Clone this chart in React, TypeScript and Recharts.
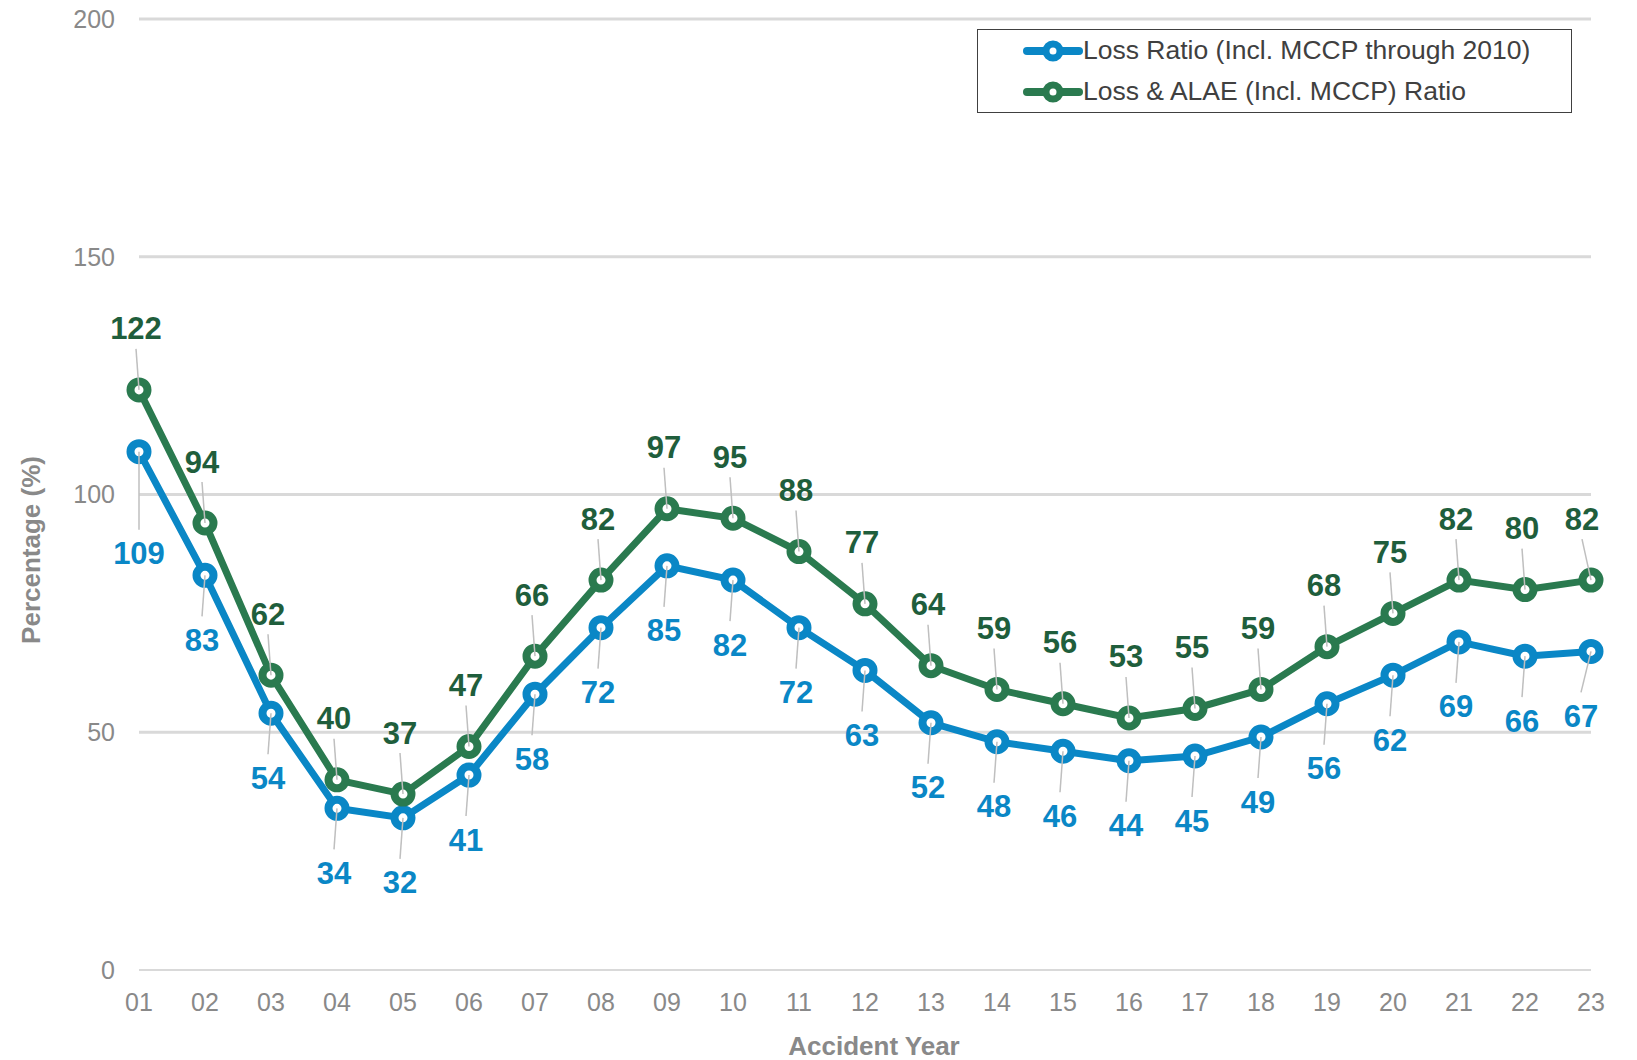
import React from 'react';
import {
  LineChart,
  Line,
  XAxis,
  YAxis,
  ReferenceLine,
  Legend,
  LabelList,
  Label,
} from 'recharts';

const years = ['01', '02', '03', '04', '05', '06', '07', '08', '09', '10', '11', '12', '13', '14', '15', '16', '17', '18', '19', '20', '21', '22', '23'];
const lossRatio = [109, 83, 54, 34, 32, 41, 58, 72, 85, 82, 72, 63, 52, 48, 46, 44, 45, 49, 56, 62, 69, 66, 67];
const lossAlaeRatio = [122, 94, 62, 40, 37, 47, 66, 82, 97, 95, 88, 77, 64, 59, 56, 53, 55, 59, 68, 75, 82, 80, 82];
const yTicks = [0, 50, 100, 150, 200];

const seriesNames = {
  loss: 'Loss Ratio (Incl. MCCP through 2010)',
  alae: 'Loss & ALAE (Incl. MCCP) Ratio',
};

const data = years.map((year, i) => ({
  year,
  loss: lossRatio[i],
  alae: lossAlaeRatio[i],
}));

const FONT = '"Liberation Sans", Arial, Helvetica, sans-serif';
const BLUE = '#0A87C6';
const GREEN = '#2A7A4F';
const GREEN_TEXT = '#1F5E3C';
const GRAY = '#898989';
const GRID = '#D9D9D9';
const LEADER = '#BFBFBF';

// labels above the green line, leader line down to the point
const renderGreenLabel = (props: any) => {
  const { x, y, value, index } = props;
  const dx = index === years.length - 1 ? -9 : -3;
  const ly = y - 61;
  return (
    <g>
      <line x1={x + dx} y1={ly + 20} x2={x} y2={y} stroke={LEADER} strokeWidth={1.5} />
      <text
        x={x + dx}
        y={ly}
        textAnchor="middle"
        dominantBaseline="central"
        fill={GREEN_TEXT}
        fontFamily={FONT}
        fontWeight="bold"
        fontSize={31}
      >
        {value}
      </text>
    </g>
  );
};

// labels below the blue line
const renderBlueLabel = (props: any) => {
  const { x, y, value, index } = props;
  const off = index === 0 ? 102 : 65;
  const dx = index === years.length - 1 ? -10 : index === 0 ? 0 : -3;
  const ly = y + off;
  return (
    <g>
      <line x1={x + dx} y1={ly - 24} x2={x} y2={y} stroke={LEADER} strokeWidth={1.5} />
      <text
        x={x + dx}
        y={ly}
        textAnchor="middle"
        dominantBaseline="central"
        fill={BLUE}
        fontFamily={FONT}
        fontWeight="bold"
        fontSize={31}
      >
        {value}
      </text>
    </g>
  );
};

const LegendBox = () => {
  const rows = [
    { name: seriesNames.loss, color: BLUE },
    { name: seriesNames.alae, color: GREEN },
  ];
  return (
    <div
      style={{
        width: 595,
        height: 84,
        boxSizing: 'border-box',
        border: '1.5px solid #404040',
        background: '#fff',
      }}
    >
      {rows.map((r) => (
        <div key={r.name} style={{ display: 'flex', alignItems: 'center', height: 41, paddingLeft: 45 }}>
          <svg width={60} height={24} style={{ flex: 'none' }}>
            <line x1={4} y1={12} x2={56} y2={12} stroke={r.color} strokeWidth={8} strokeLinecap="round" />
            <circle cx={30} cy={12} r={7} fill="#fff" stroke={r.color} strokeWidth={7} />
          </svg>
          <span style={{ fontFamily: FONT, fontSize: 26.5, color: '#404040', marginLeft: 0, whiteSpace: 'nowrap' }}>
            {r.name}
          </span>
        </div>
      ))}
    </div>
  );
};

export default function App() {
  return (
    <div style={{ position: 'absolute', left: 0, top: 0, width: 1637, height: 1060, background: '#fff' }}>
      <LineChart
        width={1637}
        height={1060}
        data={data}
        margin={{ top: 19, right: 46, left: 0, bottom: 0 }}
      >
        {yTicks.filter((t) => t > 0).map((t) => (
          <ReferenceLine key={t} y={t} stroke={GRID} strokeWidth={3} />
        ))}
        <XAxis
          dataKey="year"
          tickLine={false}
          tickSize={0}
          tickMargin={23}
          axisLine={{ stroke: GRID, strokeWidth: 2 }}
          tick={{ fill: GRAY, fontSize: 25, fontFamily: FONT }}
          interval={0}
          height={90}
        >
          <Label
            content={() => (
              <text
                x={874}
                y={1046}
                textAnchor="middle"
                dominantBaseline="central"
                fill={GRAY}
                fontFamily={FONT}
                fontWeight="bold"
                fontSize={26}
              >
                Accident Year
              </text>
            )}
          />
        </XAxis>
        <YAxis
          domain={[0, 200]}
          ticks={yTicks}
          width={139}
          axisLine={false}
          tickLine={false}
          tickSize={0}
          tickMargin={24}
          tick={{ fill: GRAY, fontSize: 25, fontFamily: FONT }}
        >
          <Label
            content={() => (
              <text
                x={31}
                y={550}
                transform="rotate(-90 31 550)"
                textAnchor="middle"
                dominantBaseline="central"
                fill={GRAY}
                fontFamily={FONT}
                fontWeight="bold"
                fontSize={26}
              >
                Percentage (%)
              </text>
            )}
          />
        </YAxis>
        <Legend
          layout="vertical"
          align="center"
          verticalAlign="middle"
          content={() => <LegendBox />}
          wrapperStyle={{ left: 977, top: 29, width: 595, height: 84 }}
        />
        <Line
          type="linear"
          dataKey="loss"
          name={seriesNames.loss}
          stroke={BLUE}
          strokeWidth={7}
          dot={{ r: 8.5, strokeWidth: 8, fill: '#fff', stroke: BLUE }}
          activeDot={false}
          isAnimationActive={false}
        >
          <LabelList dataKey="loss" content={renderBlueLabel} />
        </Line>
        <Line
          type="linear"
          dataKey="alae"
          name={seriesNames.alae}
          stroke={GREEN}
          strokeWidth={7}
          dot={{ r: 8.5, strokeWidth: 8, fill: '#fff', stroke: GREEN }}
          activeDot={false}
          isAnimationActive={false}
        >
          <LabelList dataKey="alae" content={renderGreenLabel} />
        </Line>
      </LineChart>
    </div>
  );
}
